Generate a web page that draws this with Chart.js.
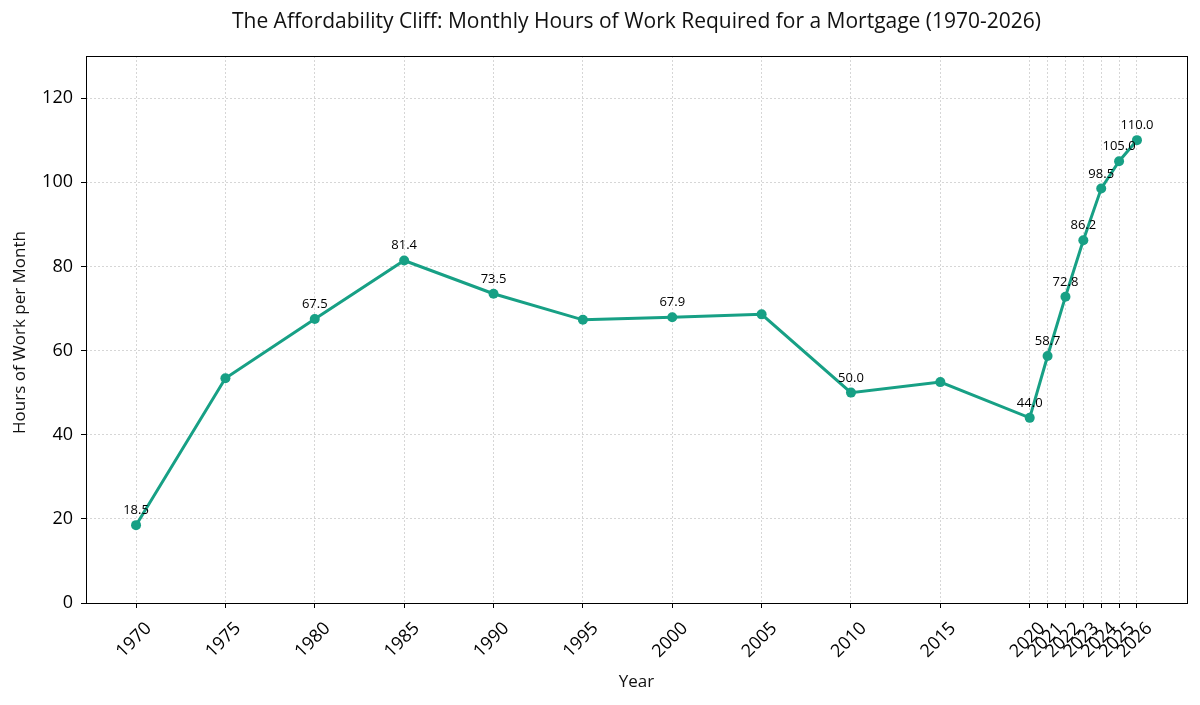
<!DOCTYPE html>
<html>
<head>
<meta charset="utf-8">
<script src="https://cdn.jsdelivr.net/npm/chart.js@4.4.1/dist/chart.umd.min.js"></script>
<style>
  html, body { margin: 0; padding: 0; background: #fff; }
  #wrap { width: 1200px; height: 705px; }
</style>
</head>
<body>
<div id="wrap"><canvas id="cliffChart" width="1200" height="705"></canvas></div>
<script>
// data
var years    = [1970, 1975, 1980, 1985, 1990, 1995, 2000, 2005, 2010, 2015, 2020, 2021, 2022, 2023, 2024, 2025, 2026];
var hours    = [18.5, 53.4, 67.5, 81.4, 73.5, 67.3, 67.9, 68.6, 50.0, 52.5, 44.0, 58.7, 72.8, 86.2, 98.5, 105.0, 110.0];
var labelled = [true, false, true, true, true, false, true, false, true, false, true, true, true, true, true, true, true];
var yTicks   = [0, 20, 40, 60, 80, 100, 120];

var FONT = '"Open Sans", "DejaVu Sans", sans-serif';
var TEAL = '#17a085';

// title, frame, axis titles, rotated year labels, value labels
var decorations = {
  id: 'decorations',
  afterDraw: function (chart) {
    var ctx = chart.ctx;
    var area = chart.chartArea;
    var xs = chart.scales.x;
    var ys = chart.scales.y;
    var cx = (area.left + area.right) / 2;

    ctx.save();
    // frame
    ctx.strokeStyle = '#000';
    ctx.lineWidth = 1;
    ctx.strokeRect(area.left + 0.5, area.top + 0.5, area.right - area.left, area.bottom - area.top);

    // title
    ctx.fillStyle = '#111';
    ctx.font = '21px ' + FONT;
    ctx.textAlign = 'center';
    ctx.textBaseline = 'middle';
    ctx.fillText('The Affordability Cliff: Monthly Hours of Work Required for a Mortgage (1970-2026)', cx, 22);

    // axis titles
    ctx.font = '17px ' + FONT;
    ctx.fillText('Year', cx, 682);
    ctx.save();
    ctx.translate(20, (area.top + area.bottom) / 2 + 3);
    ctx.rotate(-Math.PI / 2);
    ctx.fillText('Hours of Work per Month', 0, 0);
    ctx.restore();

    // x tick labels, rotated 45 and centred under the tick
    ctx.font = '18px ' + FONT;
    ctx.fillStyle = '#000';
    years.forEach(function (yr) {
      var px = xs.getPixelForValue(yr);
      var txt = String(yr);
      var w = ctx.measureText(txt).width;
      var h = 13;
      var half = (w + h) * 0.7071 / 2;
      ctx.save();
      ctx.translate(px - 2, area.bottom + 18 + half);
      ctx.rotate(-Math.PI / 4);
      ctx.fillText(txt, 0, 0);
      ctx.restore();
    });

    // value labels
    ctx.font = '13px ' + FONT;
    ctx.textBaseline = 'alphabetic';
    years.forEach(function (yr, i) {
      if (!labelled[i]) return;
      var px = xs.getPixelForValue(yr);
      var py = ys.getPixelForValue(hours[i]);
      ctx.fillText(hours[i].toFixed(1), px, py - 11);
    });
    ctx.restore();
  }
};

var ctx = document.getElementById('cliffChart').getContext('2d');
new Chart(ctx, {
  type: 'line',
  data: {
    datasets: [{
      label: 'Hours of Work per Month',
      data: years.map(function (yr, i) { return { x: yr, y: hours[i] }; }),
      borderColor: TEAL,
      backgroundColor: TEAL,
      borderWidth: 3,
      pointRadius: 5,
      pointBorderWidth: 0,
      pointBackgroundColor: TEAL,
      tension: 0,
      fill: false
    }]
  },
  options: {
    responsive: false,
    animation: false,
    devicePixelRatio: 1,
    layout: { padding: { top: 56, right: 13, left: 0, bottom: 0 } },
    plugins: {
      legend: { display: false },
      title: { display: false },
      tooltip: { enabled: false }
    },
    scales: {
      x: {
        type: 'linear',
        min: 1967.2,
        max: 2028.8,
        afterBuildTicks: function (scale) {
          scale.ticks = years.map(function (v) { return { value: v }; });
        },
        afterFit: function (scale) { scale.height = 102; },
        ticks: { display: false, autoSkip: false },
        grid: { color: '#cccccc', lineWidth: 0.8, tickColor: '#000', tickWidth: 1, tickLength: 5 },
        border: { display: false, dash: [2, 2] }
      },
      y: {
        min: 0,
        max: 130,
        afterBuildTicks: function (scale) {
          scale.ticks = yTicks.map(function (v) { return { value: v }; });
        },
        afterFit: function (scale) { scale.width = 86; },
        ticks: { color: '#000', padding: 8, font: { family: FONT, size: 18 } },
        grid: { color: '#cccccc', lineWidth: 0.8, tickColor: '#000', tickWidth: 1, tickLength: 5 },
        border: { display: false, dash: [2, 2] }
      }
    }
  },
  plugins: [decorations]
});
</script>
</body>
</html>
